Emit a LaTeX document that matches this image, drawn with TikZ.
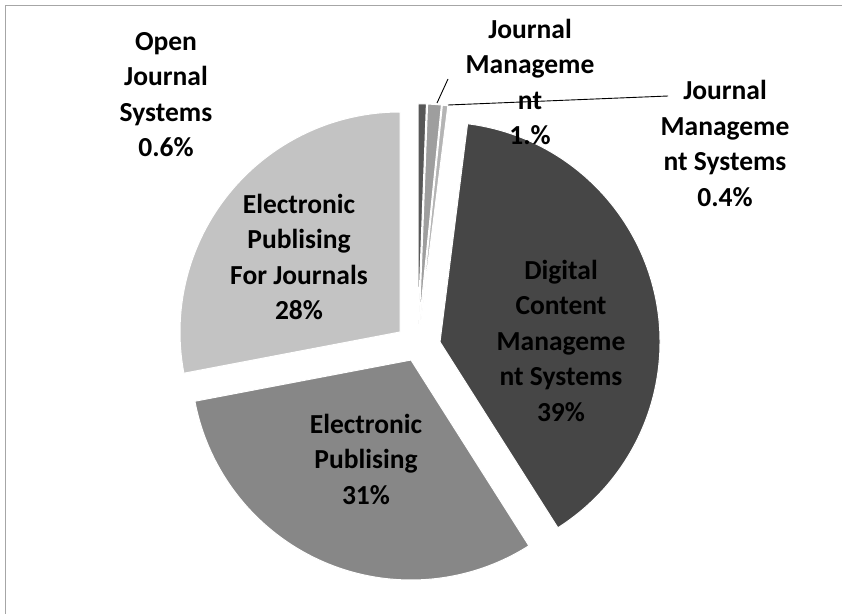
\documentclass[tikz,border=0pt]{standalone}
\usepackage{fontspec}
\setmainfont{Carlito}
\definecolor{cDCMS}{HTML}{464646}
\definecolor{cEP}{HTML}{878787}
\definecolor{cEPFJ}{HTML}{C3C3C3}
\definecolor{cOJS}{HTML}{575757}
\definecolor{cJM}{HTML}{9E9E9E}
\definecolor{cJMS}{HTML}{B4B4B4}
\definecolor{cFrame}{HTML}{A6A6A6}
\begin{document}
\begin{tikzpicture}[x=1pt,y=-1pt,
  lbl/.style={font=\bfseries\fontsize{27.5}{35.5}\selectfont, align=center, inner sep=0pt, anchor=base},
  slice/.style={draw=white, line width=1pt},
  leader/.style={draw=black, line width=0.9pt},
  frameline/.style={draw=cFrame, line width=1.5pt}]
\useasboundingbox (0,0) rectangle (842,613);
\draw[frameline] (5.5,614) -- (5.5,5.5) -- (843,5.5);
% slices (apex, clockwise from 12 o'clock)
\path[slice, fill=cDCMS] (440,342) -- ++(-82.8:220) arc[start angle=-82.8, end angle=57.6, radius=220] -- cycle;
\path[slice, fill=cEP] (411,360) -- ++(57.6:220) arc[start angle=57.6, end angle=169.2, radius=220] -- cycle;
\path[slice, fill=cEPFJ] (400,332) -- ++(169.2:220) arc[start angle=169.2, end angle=270, radius=220] -- cycle;
\path[slice, fill=cOJS] (418.1,323.8) -- ++(-90:220) arc[start angle=-90, end angle=-87.84, radius=220] -- cycle;
\path[slice, fill=cJM] (419.3,323.9) -- ++(-87.84:220) arc[start angle=-87.84, end angle=-84.24, radius=220] -- cycle;
\path[slice, fill=cJMS] (420.3,324) -- ++(-84.24:220) arc[start angle=-84.24, end angle=-82.8, radius=220] -- cycle;
% labels (base anchor = baseline of last line)
\node[lbl] (ojs) at (166,156.5) {Open\\Journal\\Systems\\0.6\%};
\node[lbl] (jm) at (530,144.5) {Journal\\Manageme\\nt\\1.\%};
\node[lbl] (jms) at (725,206) {Journal\\Manageme\\nt Systems\\0.4\%};
\node[lbl] (epfj) at (299,319.5) {Electronic\\Publising\\For Journals\\28\%};
\node[lbl] (dcms) at (561,421) {Digital\\Content\\Manageme\\nt Systems\\39\%};
\node[lbl] (ep) at (366,504) {Electronic\\Publising\\31\%};
% leader lines
\coordinate (jmtip) at (437,103);
\coordinate (jmend) at (448,79);
\coordinate (jmstip) at (448,105);
\coordinate (jmsend) at (668,96);
\draw[leader] (jmtip) -- (jmend);
\draw[leader] (jmstip) -- (jmsend);
\end{tikzpicture}
\end{document}
